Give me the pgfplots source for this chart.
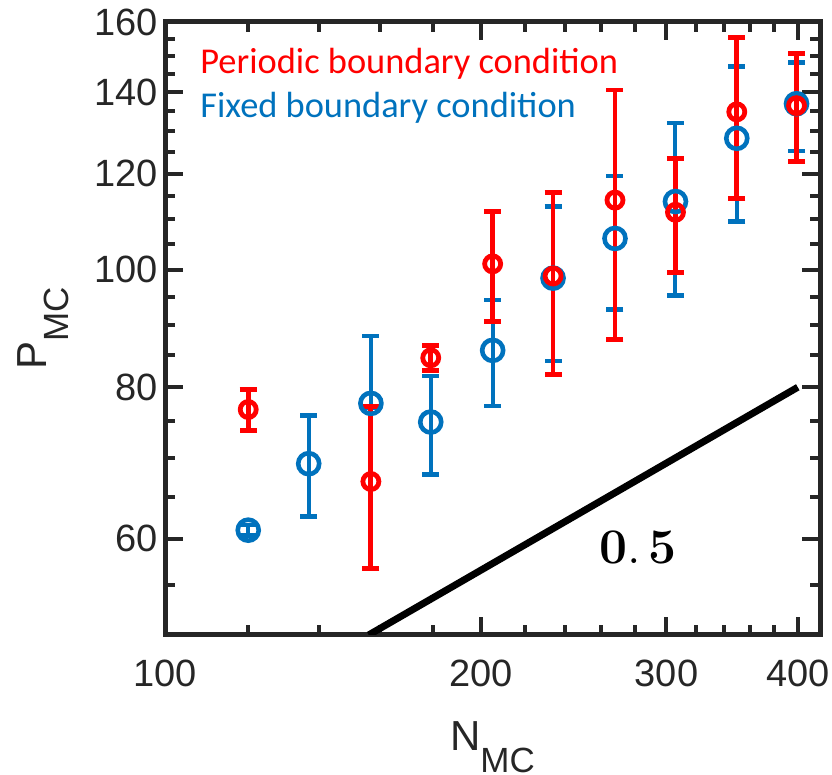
\documentclass[border=0pt]{standalone}
\usepackage[no-math]{fontspec}
\setmainfont{Liberation Sans}
\newfontfamily\legfont{Carlito}
\usepackage{pgfplots}
\pgfplotsset{compat=1.18}
\definecolor{axgray}{RGB}{38,38,38}
\definecolor{mblue}{RGB}{0,114,189}
\definecolor{mred}{RGB}{255,0,0}
\begin{document}
\begin{tikzpicture}
\useasboundingbox (-82.5pt,-70pt) rectangle (333.5pt,317.5pt);
\begin{axis}[
  scale only axis, width=327.5pt, height=306.5pt,
  xmode=log, ymode=log,
  xmin=100, xmax=420, ymin=50, ymax=160,
  axis line style={line width=2.5pt, color=axgray, line join=miter},
  tick style={line width=2pt, color=axgray},
  major tick length=9pt, minor tick length=5pt,
  tick align=inside,
  xtick={100,200,300,400}, xticklabels={100,200,300,400},
  minor xtick={120,140,160,180,220,240,260,280,320,340,360,380},
  ytick={60,80,100,120,140,160}, yticklabels={60,80,100,120,140,160},
  minor ytick={55,65,70,75,85,90,95,105,110,115,125,130,135,145,150,155},
  ticklabel style={font=\fontsize{19}{19}\selectfont, text=axgray},
  xticklabel style={yshift=-9pt},
  /pgf/number format/assume math mode=true,
  xlabel={N\raisebox{-11pt}{\fontsize{17.5}{17.5}\selectfont MC}},
  ylabel={P\raisebox{-11pt}{\fontsize{17.5}{17.5}\selectfont MC}},
  every axis x label/.style={at={(axis description cs:0.5,0)}, anchor=center, yshift=-56pt,
     inner sep=0pt, font=\fontsize{21}{21}\selectfont, text=axgray},
  every axis y label/.style={at={(axis description cs:0,0.5)}, anchor=center, rotate=90, yshift=61pt,
     inner sep=0pt, font=\fontsize{21}{21}\selectfont, text=axgray},
]
% fixed boundary (blue)
\addplot[mblue, only marks, mark=o, mark size=5.25pt, mark options={line width=2.3pt},
  error bars/.cd, y dir=both, y explicit, error mark=|,
  error bar style={line width=2pt, mblue},
  error mark options={line width=2.2pt, mark size=4.25pt, mblue}]
coordinates {
 (120,61.0) +- (0,0.6)
 (137,69.2) +- (0,6.6)
 (157,77.6) += (0,10.6) -= (0,0.6)
 (179,74.9) += (0,6.8) -= (0,7.1)
 (205,85.8) +- (0,8.6)
 (234,98.4) +- (0,14.3)
 (268,106.1) +- (0,13.4)
 (306,113.8) += (0,18.3) -= (0,18.6)
 (350,128.3) +- (0,18.7)
 (399,137.0) += (0,11.2) -= (0,11.7)
};
% periodic boundary (red)
\addplot[mred, only marks, mark=o, mark size=4pt, mark options={line width=2.4pt},
  error bars/.cd, y dir=both, y explicit, error mark=|,
  error bar style={line width=2.4pt, mred},
  error mark options={line width=2.4pt, mark size=4.25pt, mred}]
coordinates {
 (120,76.7) +- (0,3.0)
 (157,66.9) +- (0,10.2)
 (179,84.6) +- (0,2.0)
 (205,101.1) +- (0,10.5)
 (234,98.8) +- (0,16.9)
 (268,114.1) +- (0,26.5)
 (306,111.5) +- (0,12.0)
 (350,134.9) +- (0,20.5)
 (399,136.5) += (0,14.3) -= (0,13.8)
};
% slope line
\addplot[black, line width=3.5pt, no marks] coordinates {(156.25,50) (400,80)};
\node[anchor=base west, inner sep=0pt, text=mred, font=\legfont\fontsize{18.2}{18.2}\selectfont] at (rel axis cs:0.0534,0.916) {Periodic boundary condition};
\node[anchor=base west, inner sep=0pt, text=mblue, font=\legfont\fontsize{18.2}{18.2}\selectfont] at (rel axis cs:0.0534,0.8445) {Fixed boundary condition};
\node[anchor=base, inner sep=0pt, font=\fontsize{30}{30}\selectfont] at (rel axis cs:0.722,0.117) {$\mathbf{0.\,5}$};
\end{axis}
\end{tikzpicture}
\end{document}
